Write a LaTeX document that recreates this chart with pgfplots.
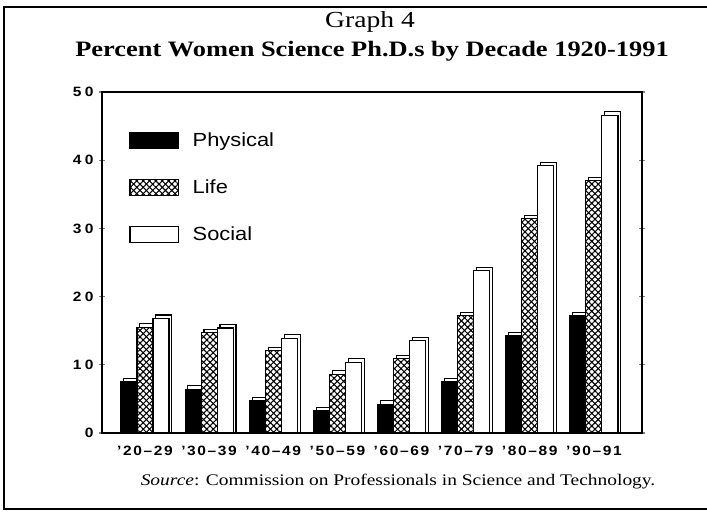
\documentclass[border=0pt]{standalone}
\usepackage{fontspec}
\setmainfont{Liberation Serif}[FakeStretch=1.2]
\setsansfont{Liberation Sans}[FakeStretch=1.15]
\usepackage{pgfplots}
\usepackage{pgfplotstable}
\pgfplotsset{compat=1.18}
\usetikzlibrary{patterns.meta}

\pgfplotstableread{
x phys life soc
0 7.5 15.5 16.8
1 6.4 14.7 15.4
2 4.7 12.1 13.9
3 3.3 8.6 10.4
4 4.2 10.9 13.5
5 7.5 17.2 23.8
6 14.3 31.4 39.2
7 17.2 37.0 46.6
}\datatable

\tikzset{
  hatch/.style={fill=white,
    postaction={pattern={Lines[angle=45,distance=4.5pt,line width=1.1pt]}},
    postaction={pattern={Lines[angle=-45,distance=4.5pt,line width=1.1pt]}}},
  shadow/.style={draw=black, fill=white, line width=1.1pt}
}

\begin{document}
\begin{tikzpicture}[x=1pt,y=1pt]
\path[use as bounding box] (0pt,0pt) rectangle (707pt,515pt);
\draw[line width=1.3pt] (707pt,508pt) -- (4pt,508pt) -- (4pt,6pt) -- (707pt,6pt);
\node[font=\fontsize{23}{25}\selectfont] at (370pt,493pt) {Graph 4};
\node[font=\fontsize{22}{24}\selectfont\bfseries] at (372pt,464pt) {Percent Women Science Ph.D.s by Decade 1920-1991};
\node[font=\fontsize{16.2}{18}\selectfont] at (398pt,33pt) {\textit{Source}: Commission on Professionals in Science and Technology.};
\begin{axis}[
  at={(102pt,82pt)}, anchor=south west, scale only axis,
  width=540pt, height=341pt,
  xmin=-0.67, xmax=7.75, ymin=0, ymax=50,
  ytick={0,10,...,50},
  xtick={0,...,7},
  xticklabels={{'20--29},{'30--39},{'40--49},{'50--59},{'60--69},{'70--79},{'80--89},{'90--91}},
  tick align=center, major tick length=6pt,
  xtick style={draw=none},
  ytick style={line width=1.2pt},
  axis line style={line width=1.3pt},
  /pgf/number format/assume math mode=true,
  yticklabel style={font=\sffamily\bfseries\fontsize{13.5}{14}\selectfont\addfontfeature{LetterSpace=25}, xshift=-2pt},
  xticklabel style={font=\sffamily\bfseries\fontsize{13.5}{14}\selectfont\addfontfeature{LetterSpace=12}, yshift=-7pt},
  legend style={at={(0.045,0.893)}, anchor=north west, draw=none, fill=none,
    font=\sffamily\fontsize{19}{21}\selectfont, row sep=28pt,
    /tikz/every odd column/.append style={column sep=12pt}},
  legend cell align=left,
  legend image code/.code={\draw[#1, line width=1.2pt] (0pt,-8pt) rectangle (48pt,8pt);},
]
% Physical
\addplot[ybar, bar width=0.25, bar shift=-0.205, shadow, forget plot] table[x=x, y expr=\thisrow{phys}+0.5] {\datatable};
\addplot[ybar, bar width=0.25, bar shift=-0.25, draw=black, fill=black, line width=1.1pt] table[x=x, y=phys] {\datatable};
\addlegendentry{Physical}
% Life
\addplot[ybar, bar width=0.25, bar shift=0.045, shadow, forget plot] table[x=x, y expr=\thisrow{life}+0.5] {\datatable};
\addplot[ybar, bar width=0.25, bar shift=0, draw=black, line width=1.1pt, hatch] table[x=x, y=life] {\datatable};
\addlegendentry{Life}
% Social
\addplot[ybar, bar width=0.25, bar shift=0.295, shadow, forget plot] table[x=x, y expr=\thisrow{soc}+0.5] {\datatable};
\addplot[ybar, bar width=0.25, bar shift=0.25, draw=black, fill=white, line width=1.1pt] table[x=x, y=soc] {\datatable};
\addlegendentry{Social}
\end{axis}
\end{tikzpicture}
\end{document}
